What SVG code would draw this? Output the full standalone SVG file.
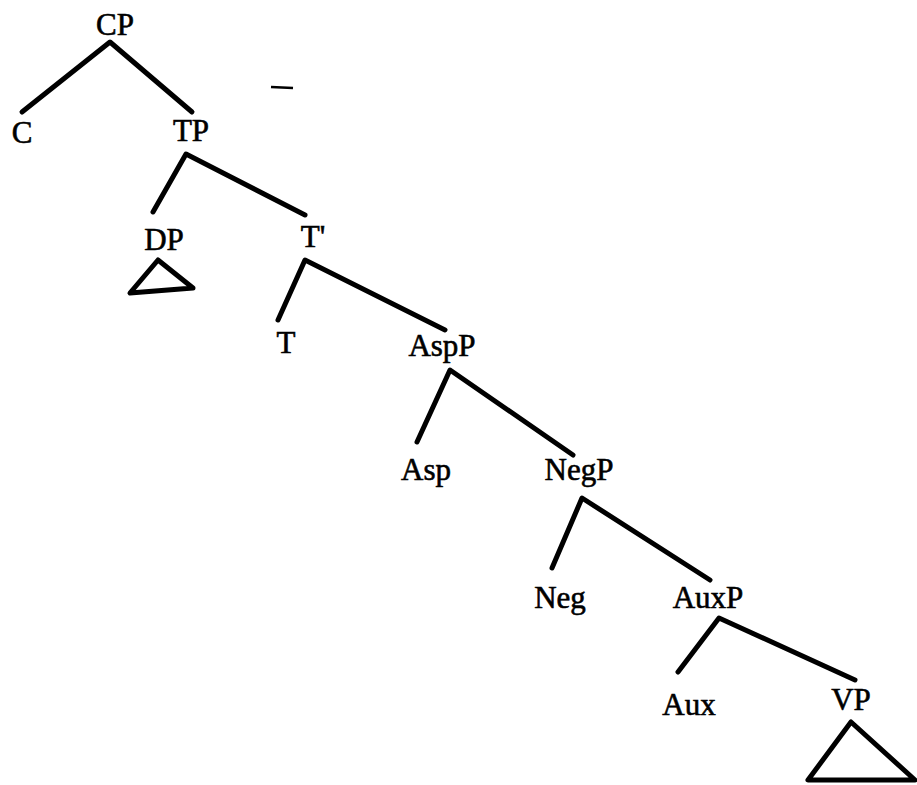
<svg xmlns="http://www.w3.org/2000/svg" width="917" height="785" viewBox="0 0 917 785">
<style>
.lbl{font-family:"Liberation Serif","Times New Roman",serif;font-size:31px;fill:#000;stroke:#000;stroke-width:0.6;text-anchor:middle}
.edge{stroke:#000;stroke-width:5;stroke-linecap:round;stroke-linejoin:round;fill:none}
</style>
<rect width="917" height="785" fill="#fff"/>
<g id="connectors">
<path class="edge" d="M22,112 L110,42 L192,112"/>
<path class="edge" d="M153,212 L186,154 L305,215"/>
<path class="edge" d="M278,320 L305,260 L445,330"/>
<path class="edge" d="M417,442 L450,370 L573,455"/>
<path class="edge" d="M552,568 L582,498 L710,580"/>
<path class="edge" d="M678,672 L719,618 L855,680"/>
</g>
<g id="node-CP"><text class="lbl" x="115" y="35">CP</text></g>
<g id="node-C"><text class="lbl" x="22" y="143">C</text></g>
<g id="node-TP"><text class="lbl" x="191" y="141">TP</text></g>
<g id="node-DP"><text class="lbl" x="164" y="250">DP</text>
<path class="edge" d="M158,260 L130,293 L193,288 Z"/></g>
<g id="node-Tbar"><text class="lbl" x="313" y="247">T'</text></g>
<g id="node-T"><text class="lbl" x="286" y="353">T</text></g>
<g id="node-AspP"><text class="lbl" x="442" y="356">AspP</text></g>
<g id="node-Asp"><text class="lbl" x="426" y="480">Asp</text></g>
<g id="node-NegP"><text class="lbl" x="579" y="480">NegP</text></g>
<g id="node-Neg"><text class="lbl" x="560" y="608">Neg</text></g>
<g id="node-AuxP"><text class="lbl" x="708" y="608">AuxP</text></g>
<g id="node-Aux"><text class="lbl" x="689" y="715">Aux</text></g>
<g id="node-VP"><text class="lbl" x="851" y="710">VP</text>
<path class="edge" d="M851,722 L808,780 L915,780 Z"/></g>
<path d="M271,87 L293,88" stroke="#000" stroke-width="2.5" fill="none"/>
</svg>
